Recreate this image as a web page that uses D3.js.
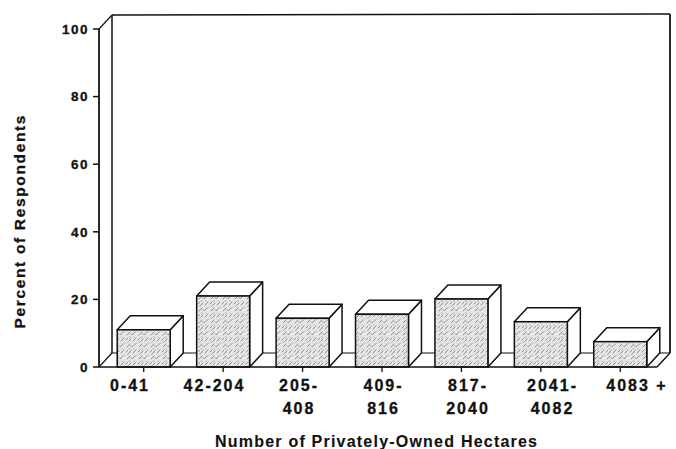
<!DOCTYPE html>
<html>
<head>
<meta charset="utf-8">
<script src="https://cdn.jsdelivr.net/npm/d3@7"></script>
<style>
  html, body { margin: 0; padding: 0; background: #fff; }
  svg { display: block; }
  text { font-family: "Liberation Sans", Arial, Helvetica, sans-serif; fill: #111; font-weight: bold;
         stroke: #111; stroke-width: 0.3px; }
</style>
</head>
<body>
<svg id="chart" width="676" height="449"></svg>
<script>
// ---- data ----
const categories = ["0-41", "42-204", "205-408", "409-816", "817-2040", "2041-4082", "4083+"];
const labelLines = [["0-41"], ["42-204"], ["205-", "408"], ["409-", "816"], ["817-", "2040"], ["2041-", "4082"], ["4083 +"]];
const percents = [11, 21, 14.4, 15.6, 20.1, 13.4, 7.5];
const yTicks = [0, 20, 40, 60, 80, 100];
const yTitle = "Percent of Respondents";
const xTitle = "Number of Privately-Owned Hectares";

// ---- layout ----
const axisX = 99, floorY = 367, topY = 29;
const DX = 13, DY = -14;          // depth offset
const wallRight = 670;

const svg = d3.select("#chart");

const y = d3.scaleLinear().domain([0, 100]).range([floorY, topY]);
const x = d3.scaleBand().domain(categories).range([104, 660])
  .paddingInner(0.333).paddingOuter(0.1667);
// tick labels are spread slightly wider than the bars in the original
const xl = d3.scalePoint().domain(categories).range([129, 636]);

// stippled fill for front faces
const defs = svg.append("defs");
const pat = defs.append("pattern").attr("id", "stip")
  .attr("patternUnits", "userSpaceOnUse").attr("width", 12).attr("height", 12);
pat.append("rect").attr("width", 12).attr("height", 12).attr("fill", "#e6e6e6");
pat.append("path")
  .attr("d", "M1,5 L4,2 M7,11 L10,8 M6,4 L8,2 M0,11 L2,9 M9,5 L11,3")
  .attr("stroke", "#777").attr("stroke-width", 0.8).attr("stroke-linecap", "round");
[[3, 8, 0.6], [10, 1, 0.5], [5, 7, 0.45], [11, 10, 0.5], [2, 1, 0.45], [8, 6, 0.5]].forEach(d =>
  pat.append("circle").attr("cx", d[0]).attr("cy", d[1]).attr("r", d[2]).attr("fill", "#555"));

const line = (x1, y1, x2, y2, w) => svg.append("line")
  .attr("x1", x1).attr("y1", y1).attr("x2", x2).attr("y2", y2)
  .attr("stroke", "#111").attr("stroke-width", w || 1.5);

// back wall and side walls
const backTop = y(100) + DY;
line(axisX + DX, backTop, wallRight, backTop - 1);
line(axisX + DX, backTop, axisX + DX, floorY + DY);
line(wallRight, backTop - 1, wallRight, floorY + DY, 1.8);
line(axisX, y(100), axisX + DX, backTop, 1.2);
line(axisX + DX, floorY + DY, wallRight, floorY + DY, 1.2);
line(axisX, floorY, axisX + DX, floorY + DY, 1.2);
line(wallRight - DX, floorY, wallRight, floorY + DY, 1.4);

// bars
const bw = x.bandwidth();
const bars = svg.append("g").selectAll("g").data(categories).join("g");
bars.each(function (c, i) {
  const g = d3.select(this);
  const x0 = x(c), yt = y(percents[i]), yb = y(0);
  g.append("path")
    .attr("d", `M${x0 + bw},${yt} L${x0 + bw + DX},${yt + DY} L${x0 + bw + DX},${yb + DY} L${x0 + bw},${yb} Z`)
    .attr("fill", "#fff").attr("stroke", "#111").attr("stroke-width", 1.5).attr("stroke-linejoin", "round");
  g.append("path")
    .attr("d", `M${x0},${yt} L${x0 + DX},${yt + DY} L${x0 + bw + DX},${yt + DY} L${x0 + bw},${yt} Z`)
    .attr("fill", "#fff").attr("stroke", "#111").attr("stroke-width", 1.5).attr("stroke-linejoin", "round");
  g.append("rect")
    .attr("x", x0).attr("y", yt).attr("width", bw).attr("height", yb - yt)
    .attr("fill", "url(#stip)").attr("stroke", "#111").attr("stroke-width", 1.5);
});

// front floor line and y axis
line(axisX, floorY, wallRight - DX, floorY, 1.5);
line(axisX, y(100), axisX, floorY, 1.8);

// y ticks
const yg = svg.append("g");
yTicks.forEach(t => {
  line(axisX - 6, y(t), axisX, y(t), 1.5);
  yg.append("text").attr("x", 89).attr("y", y(t)).attr("dy", "0.35em")
    .attr("text-anchor", "end").attr("font-size", 13.5)
    .attr("letter-spacing", "1.5px").text(t);
});

// x ticks and labels
const xg = svg.append("g");
categories.forEach((c, i) => {
  const cx = x(c) + bw / 2;
  line(cx, floorY, cx, floorY + 5, 1.3);
  labelLines[i].forEach((s, k) => {
    xg.append("text").attr("x", xl(c) + 1).attr("y", 390.5 + k * 23)
      .attr("text-anchor", "middle").attr("font-size", 16)
      .attr("letter-spacing", "2px").text(s);
  });
});

// axis titles
svg.append("text")
  .attr("transform", `translate(25,222) rotate(-90)`)
  .attr("text-anchor", "middle").attr("font-size", 15.5)
  .attr("textLength", 213).attr("lengthAdjust", "spacing")
  .text(yTitle);

svg.append("text")
  .attr("x", 376).attr("y", 446.5)
  .attr("text-anchor", "middle").attr("font-size", 16)
  .attr("textLength", 322).attr("lengthAdjust", "spacing")
  .style("stroke-width", "0.1px")
  .text(xTitle);
</script>
</body>
</html>
